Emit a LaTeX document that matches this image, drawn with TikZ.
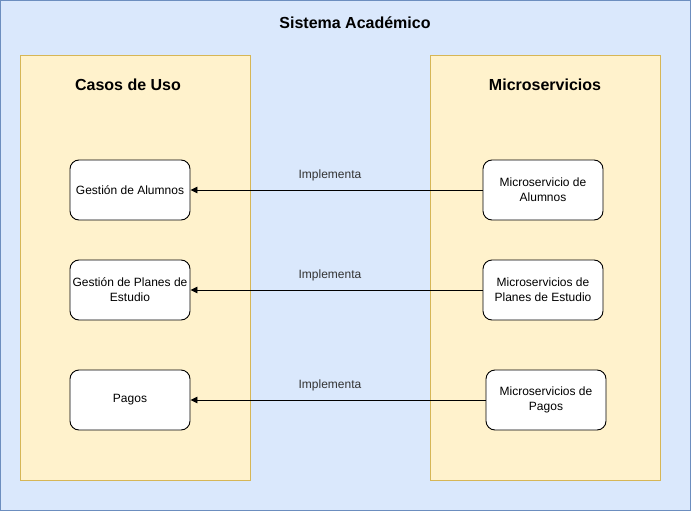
\documentclass[tikz,border=0pt]{standalone}
\usepackage{fontspec}
\setmainfont{Liberation Sans}
\usetikzlibrary{arrows.meta}
\definecolor{bluefill}{HTML}{DAE8FC}
\definecolor{blueline}{HTML}{6C8EBF}
\definecolor{yelfill}{HTML}{FFF2CC}
\definecolor{yelline}{HTML}{D6B656}
\definecolor{lbl}{HTML}{333333}
\tikzset{
  container/.style={draw=yelline, fill=yelfill, line width=1pt},
  box/.style={draw=black, fill=white, rounded corners=9pt, line width=0.9pt,
    minimum width=120pt, minimum height=60pt, align=center, inner sep=2pt,
    font=\fontsize{12}{15}\selectfont},
  heading/.style={font=\fontsize{16}{19}\selectfont\bfseries},
  conn/.style={draw=black, line width=0.9pt, -{Triangle[length=7pt,width=6.5pt]}},
  lab/.style={font=\fontsize{12}{14}\selectfont, text=lbl}
}
\begin{document}
\begin{tikzpicture}[x=1pt,y=-1pt]
\useasboundingbox (0,0) rectangle (691,511);
\draw[draw=blueline, fill=bluefill, line width=1pt] (0.5,0.5) rectangle (690.5,510.5);
\node[heading] (title) at (355,23) {Sistema Académico};
\draw[container] (20.5,55.5) rectangle (250.5,480.5);
\draw[container] (430.5,55.5) rectangle (660.5,480.5);
\node[heading] (hleft) at (128,85) {Casos de Uso};
\node[heading] (hright) at (545,85) {Microservicios};
\node[box] (l1) at (130,190) {Gestión de Alumnos};
\node[box] (l2) at (130,290) {Gestión de Planes de\\Estudio};
\node[box] (l3) at (130,400) {Pagos};
\node[box] (r1) at (543,190) {Microservicio de\\Alumnos};
\node[box] (r2) at (543,290) {Microservicios de\\Planes de Estudio};
\node[box] (r3) at (546,400) {Microservicios de\\Pagos};
\draw[conn] (r1) -- (l1);
\draw[conn] (r2) -- (l2);
\draw[conn] (r3) -- (l3);
\node[lab] (i1) at (330,175) {Implementa};
\node[lab] (i2) at (330,275) {Implementa};
\node[lab] (i3) at (330,385) {Implementa};
\end{tikzpicture}
\end{document}
